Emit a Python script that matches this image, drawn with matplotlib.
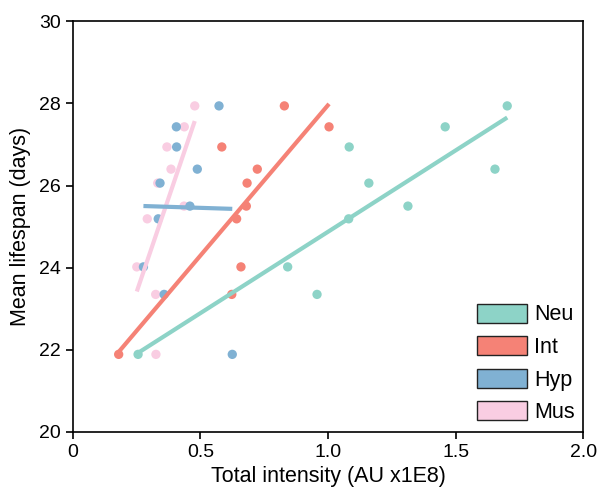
import numpy as np
import matplotlib
matplotlib.use('Agg')
import matplotlib.pyplot as plt
from matplotlib.patches import Patch

plt.rcParams['font.family'] = ['Liberation Sans', 'DejaVu Sans']

# lifespan levels shared by every group (days)
lifespan = [21.89, 23.35, 24.02, 25.19, 25.50, 26.06, 26.40, 26.94, 27.43, 27.94]

# total intensity for each group (AU x1E8), same order as lifespan
neu = [0.256, 0.957, 0.842, 1.081, 1.313, 1.160, 1.654, 1.083, 1.459, 1.702]
intest = [0.180, 0.623, 0.659, 0.642, 0.680, 0.683, 0.723, 0.584, 1.004, 0.829]
hyp = [0.625, 0.358, 0.277, 0.335, 0.459, 0.342, 0.488, 0.407, 0.406, 0.573]
mus = [0.326, 0.325, 0.251, 0.292, 0.436, 0.333, 0.385, 0.369, 0.437, 0.478]

groups = ['Neu', 'Int', 'Hyp', 'Mus']
colors = ['#8dd3c7', '#f58276', '#80b1d3', '#f9cde2']
data = [neu, intest, hyp, mus]

fig = plt.figure(figsize=(5.99, 4.95), dpi=100)
ax = fig.add_axes([0.1214, 0.1273, 0.8524, 0.8297])

y = np.array(lifespan)
# draw in reverse so Neu sits on top like the original
for name, c, xs in reversed(list(zip(groups, colors, data))):
    xs = np.array(xs)
    ax.scatter(xs, y, s=45, color=c, edgecolors='none', zorder=2)
    k, b0 = np.polyfit(xs, y, 1)
    xl = np.array([xs.min(), xs.max()])
    ax.plot(xl, k*xl + b0, color=c, lw=3, solid_capstyle='butt', zorder=3)

ax.set_xlim(0, 2.0)
ax.set_ylim(20, 30)
ax.set_xticks([0, 0.5, 1.0, 1.5, 2.0])
ax.set_xticklabels(['0', '0.5', '1.0', '1.5', '2.0'])
ax.set_yticks([20, 22, 24, 26, 28, 30])
ax.tick_params(labelsize=14, width=1.2, length=5, direction='out', top=False, right=False)
for s in ax.spines.values():
    s.set_linewidth(1.2)
ax.set_xlabel('Total intensity (AU x1E8)', fontsize=15.5, labelpad=4)
ax.set_ylabel('Mean lifespan (days)', fontsize=15.5, labelpad=6)

handles = [Patch(facecolor=c, edgecolor='#222222', linewidth=1.0) for c in colors]
ax.legend(handles, groups, loc='lower right', frameon=False, fontsize=15.5,
          handlelength=2.3, handleheight=0.98, labelspacing=0.5,
          handletextpad=0.35, borderaxespad=0.0, bbox_to_anchor=(1.0, 0.0))

fig.savefig('out.png', dpi=100)
